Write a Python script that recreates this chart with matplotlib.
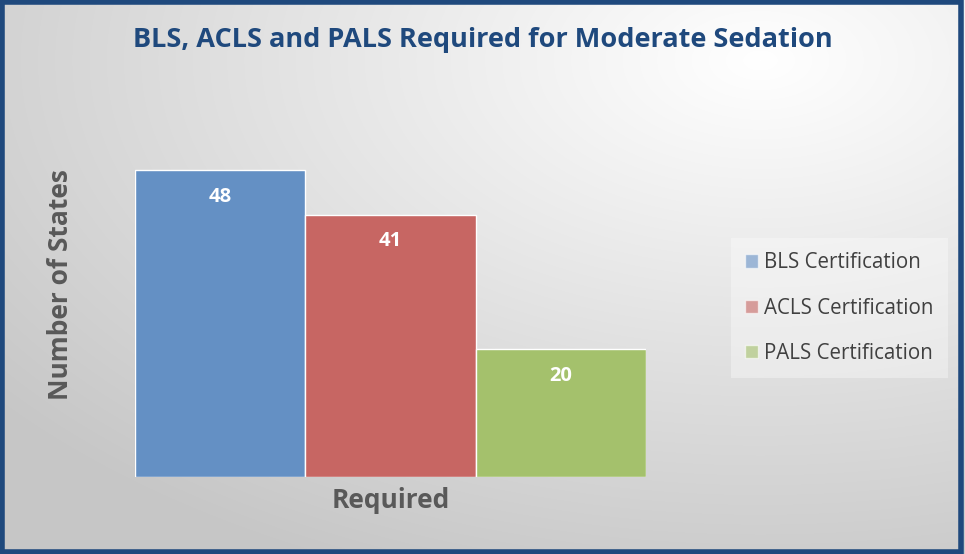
import matplotlib.pyplot as plt
import numpy as np
from matplotlib.patches import Rectangle

categories = ['BLS Certification', 'ACLS Certification', 'PALS Certification']
values = [48, 41, 20]
colors = ['#6490c4', '#c76663', '#a4c16c']

W, H = 965, 554
fig = plt.figure(figsize=(W / 100, H / 100), dpi=100)

# radial gradient background
bg = fig.add_axes([0, 0, 1, 1], zorder=-10)
yy, xx = np.mgrid[0:H, 0:W]
r = np.sqrt(((xx - 760) / W) ** 2 + ((yy - 60) / H) ** 2)
r = np.clip(r / 1.0, 0, 1)
shade = 1.0 - 0.22 * r
bg.imshow(np.dstack([shade, shade, shade]), extent=[0, 1, 0, 1], aspect='auto')
bg.set_axis_off()

# plot area
ax = fig.add_axes([135 / W, (H - 477) / H, 511 / W, 384 / H])
ax.patch.set_alpha(0)
x = np.arange(len(values))
bars = ax.bar(x, values, width=1.0, color=colors, edgecolor='white', linewidth=1,
              label=categories)
for xi, v in zip(x, values):
    ax.text(xi, v - 4.2, str(v), ha='center', va='center', color='white',
            fontsize=14.5, fontweight='bold', family='Open Sans')
ax.set_xlim(-0.5, 2.5)
ax.set_ylim(0, 60)
ax.set_xticks([])
ax.set_yticks([])
for s in ax.spines.values():
    s.set_visible(False)

fig.text(483 / W, 1 - 40 / H, 'BLS, ACLS and PALS Required for Moderate Sedation',
         ha='center', va='center', fontsize=19.5, fontweight='bold', color='#1f497d',
         family='Open Sans')
fig.text(60 / W, 1 - 285 / H, 'Number of States', rotation=90, ha='center', va='center',
         fontsize=19, fontweight='bold', color='#595959', family='Open Sans')
fig.text(391 / W, 1 - 500 / H, 'Required', ha='center', va='center',
         fontsize=19, fontweight='bold', color='#595959', family='Open Sans')

handles = [Rectangle((0, 0), 1, 1, facecolor=c, alpha=0.6, edgecolor='white') for c in colors]
leg = fig.legend(handles, categories, loc='center left', bbox_to_anchor=(731 / W, 1 - 308 / H),
                 frameon=True, fancybox=False, handlelength=0.6, handleheight=0.6,
                 handletextpad=0.3, labelspacing=1.18, borderpad=0.7, borderaxespad=0,
                 prop={'family': 'Open Sans', 'size': 14.8}, labelcolor='#404040')
leg.get_frame().set_facecolor('white')
leg.get_frame().set_alpha(0.35)
leg.get_frame().set_linewidth(0)

# outer border
fig.patches.append(Rectangle((0.002, 0.003), 0.994, 0.994, transform=fig.transFigure,
                             fill=False, edgecolor='#1f497d', linewidth=4, zorder=10))

fig.savefig('out.png', dpi=100)
